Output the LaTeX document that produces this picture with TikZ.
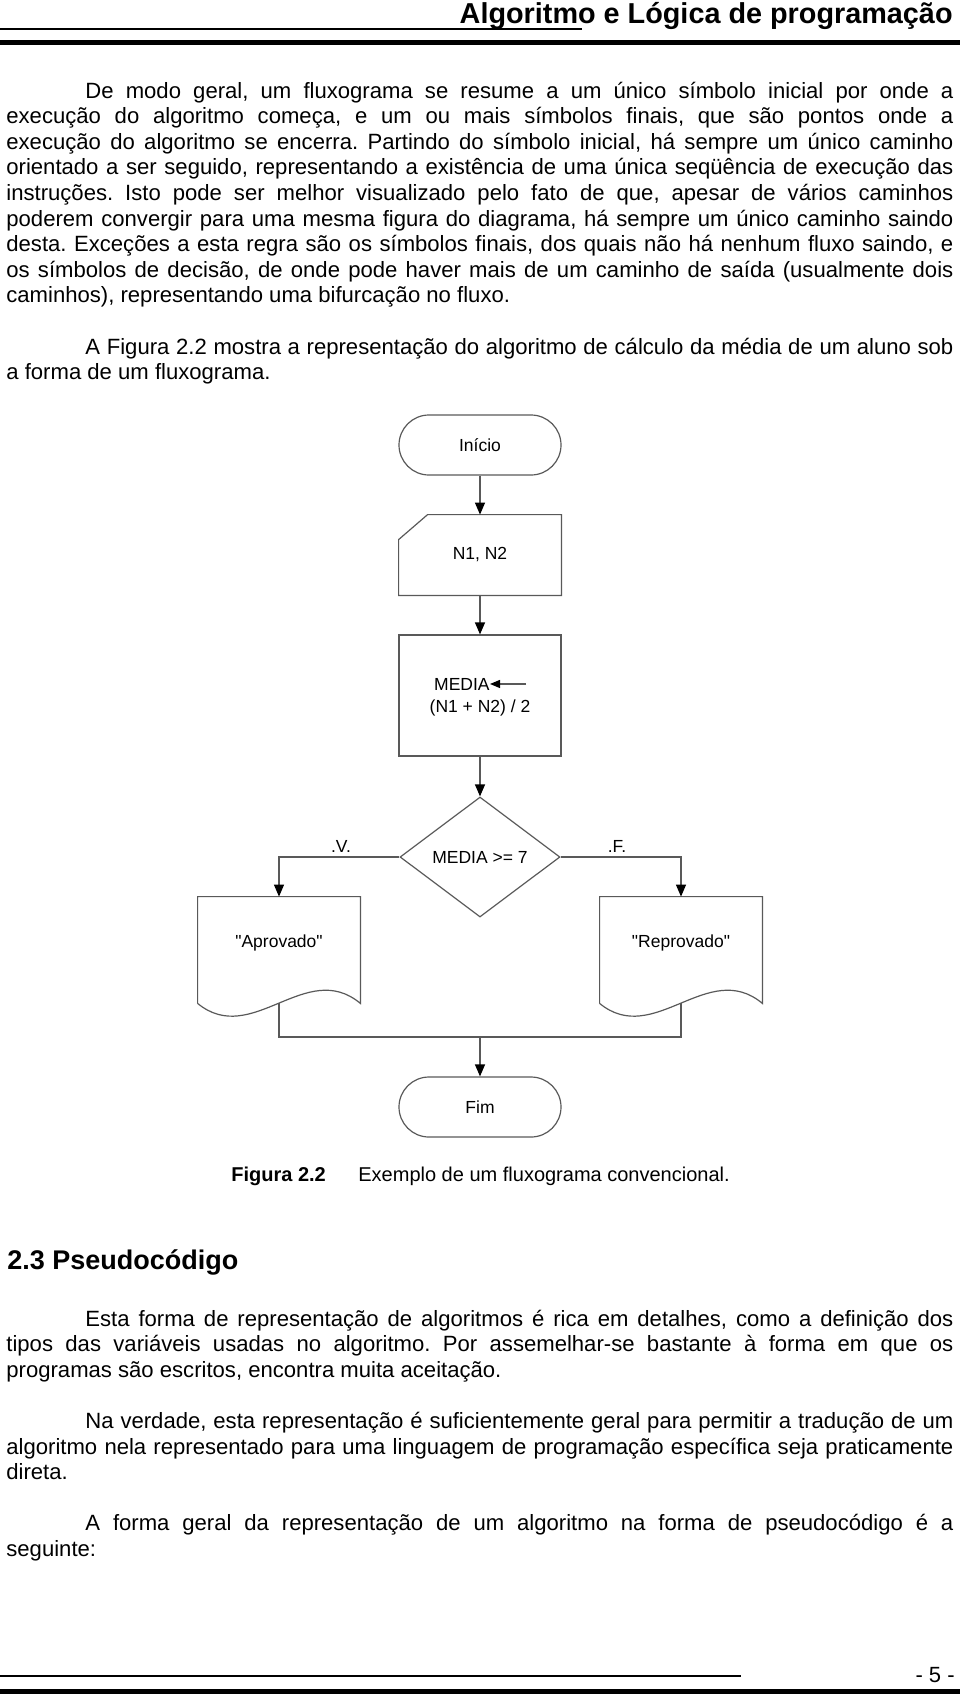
\documentclass[tikz,border=0pt]{standalone}
\usepackage{fontspec}
\setmainfont{Liberation Sans}
\usetikzlibrary{arrows.meta,shapes.geometric}
\tolerance=10000
\hbadness=10000
\hyphenpenalty=10000
\frenchspacing

\begin{document}
\begin{tikzpicture}[x=0.5pt,y=-0.5pt,
    linha/.style={draw=black!65,line width=0.6pt},
    seta/.style={linha,-{Triangle[length=6pt,width=5pt,color=black]}},
    texto/.style={anchor=base west,inner sep=0pt,text width=473.5pt,align=justify,
        font=\fontsize{11.05}{12.8}\selectfont},
    rotulo/.style={inner sep=0pt,font=\fontsize{8.75}{11}\selectfont},
    terminal/.style={linha,rounded corners=15pt,minimum width=81pt,minimum height=30pt,
        font=\fontsize{8.75}{11}\selectfont},
    caixa/.style={minimum width=81pt,inner sep=0pt,font=\fontsize{8.75}{11}\selectfont}]
\useasboundingbox (0,0) rectangle (960,1697);

\node[anchor=base east,inner sep=0pt,font=\fontsize{14.4}{17}\selectfont\bfseries] (titulo) at (953,24) {Algoritmo e Lógica de programação};
\draw[line width=0.75pt] (0,29) -- (582,29);
\draw[line width=2.5pt] (0,42.5) -- (960,42.5);

\node[texto] (par1) at (6,98) {\hspace*{39.5pt}De modo geral, um fluxograma se resume a um único símbolo inicial por onde a\linebreak
execução do algoritmo começa, e um ou mais símbolos finais, que são pontos onde a\linebreak
execução do algoritmo se encerra. Partindo do símbolo inicial, há sempre um único caminho\linebreak
orientado a ser seguido, representando a existência de uma única seqüência de execução das\linebreak
instruções. Isto pode ser melhor visualizado pelo fato de que, apesar de vários caminhos\linebreak
poderem convergir para uma mesma figura do diagrama, há sempre um único caminho saindo\linebreak
desta. Exceções a esta regra são os símbolos finais, dos quais não há nenhum fluxo saindo, e\linebreak
os símbolos de decisão, de onde pode haver mais de um caminho de saída (usualmente dois\linebreak
caminhos), representando uma bifurcação no fluxo.};
\node[texto] (par2) at (6,354) {\hspace*{39.5pt}A Figura 2.2 mostra a representação do algoritmo de cálculo da média de um aluno sob\linebreak
a forma de um fluxograma.};

\node[terminal] (inicio) at (480,445) {Início};
\node[caixa,minimum height=40pt] (leitura) at (480,555) {N1, N2};
\draw[linha] ([xshift=14.5pt]leitura.north west) -- (leitura.north east) -- (leitura.south east)
    -- (leitura.south west) -- ([yshift=-12.5pt]leitura.north west) -- cycle;
\node[caixa,linha,minimum height=60.5pt] (calculo) at (480,695.5) {};
\node[rotulo,anchor=base east] (media) at (490,690) {MEDIA};
\node[rotulo,anchor=base] (soma) at (480,712) {(N1 + N2) / 2};
\draw[linha,-{Triangle[length=5pt,width=4pt,color=black]}] ([xshift=18pt]media.east) -- (media.east);
\node[linha,shape=diamond,minimum width=80pt,minimum height=60pt,inner sep=0pt,
    font=\fontsize{8.75}{11}\selectfont] (decisao) at (480,857) {MEDIA >= 7};
\node[rotulo,anchor=base] (verdade) at (341,852) {.V.};
\node[rotulo,anchor=base] (falso) at (617,852) {.F.};

\node[caixa,minimum height=53pt] (aprovado) at (279,950) {};
\node[rotulo] (txtaprovado) at (279,943) {\textquotedbl Aprovado\textquotedbl};
\draw[linha] (aprovado.south west) -- (aprovado.north west) -- (aprovado.north east) -- (aprovado.south east)
    .. controls (306,958) and (252,1048) .. (aprovado.south west);
\node[caixa,minimum height=53pt] (reprovado) at (681,950) {};
\node[rotulo] (txtreprovado) at (681,943) {\textquotedbl Reprovado\textquotedbl};
\draw[linha] (reprovado.south west) -- (reprovado.north west) -- (reprovado.north east) -- (reprovado.south east)
    .. controls (708,958) and (654,1048) .. (reprovado.south west);

\node[terminal] (fim) at (480,1107) {Fim};
\coordinate (juncao) at (480,1037);

\draw[seta] (inicio.south) -- (leitura.north);
\draw[seta] (leitura.south) -- (calculo.north);
\draw[seta] (calculo.south) -- (decisao.north);
\draw[seta] (decisao.west) -| (aprovado.north);
\draw[seta] (decisao.east) -| (reprovado.north);
\draw[linha] (aprovado.south) |- (juncao) -| (reprovado.south);
\draw[seta] (juncao) -- (fim.north);

\node[anchor=base west,inner sep=0pt,font=\fontsize{10}{12}\selectfont\bfseries] (figura) at (231,1181) {Figura 2.2};
\node[anchor=base west,inner sep=0pt,font=\fontsize{10}{12}\selectfont] (legenda) at (358,1181) {Exemplo de um fluxograma convencional.};

\node[anchor=base west,inner sep=0pt,font=\fontsize{13.5}{16}\selectfont\bfseries] (secao) at (7,1269) {2.3 Pseudocódigo};

\node[texto] (par3) at (6,1326) {\hspace*{39.5pt}Esta forma de representação de algoritmos é rica em detalhes, como a definição dos\linebreak
tipos das variáveis usadas no algoritmo. Por assemelhar-se bastante à forma em que os\linebreak
programas são escritos, encontra muita aceitação.};
\node[texto] (par4) at (6,1428.4) {\hspace*{39.5pt}Na verdade, esta representação é suficientemente geral para permitir a tradução de um\linebreak
algoritmo nela representado para uma linguagem de programação específica seja praticamente\linebreak
direta.};
\node[texto] (par5) at (6,1530.8) {\hspace*{39.5pt}A forma geral da representação de um algoritmo na forma de pseudocódigo é a\linebreak
seguinte:};

\draw[line width=0.75pt] (0,1676) -- (741,1676);
\node[anchor=base east,inner sep=0pt,font=\fontsize{11}{13}\selectfont] (pagina) at (955,1682) {- 5 -};
\draw[line width=2.5pt] (0,1691) -- (960,1691);
\end{tikzpicture}
\end{document}
